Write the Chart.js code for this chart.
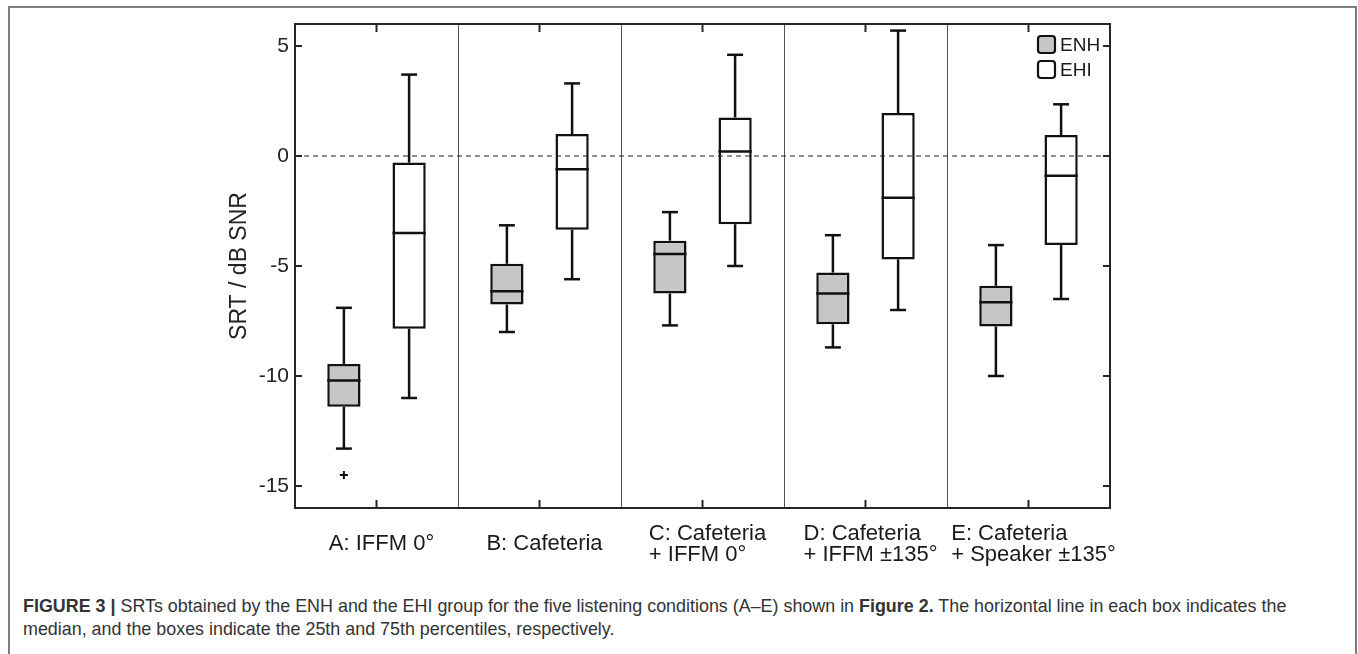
<!DOCTYPE html>
<html>
<head>
<meta charset="utf-8">
<script src="https://cdn.jsdelivr.net/npm/chart.js@4.4.0/dist/chart.umd.min.js"></script>
<style>
body { margin: 0; background: #fff; width: 1358px; height: 654px; overflow: hidden; position: relative; font-family: "Liberation Sans", Arial, Helvetica, sans-serif; }
#moldura { position: absolute; left: 8px; top: 6px; width: 1345px; height: 660px; border: 2px solid #7d7d7d; }
#grafico { position: absolute; left: 0; top: 0; }
#legenda { position: absolute; left: 23px; top: 595px; font-size: 17.9px; line-height: 23px; color: #333; white-space: nowrap; }
</style>
</head>
<body>
<div id="moldura"></div>
<canvas id="grafico" width="1358" height="575"></canvas>
<div id="legenda"><b>FIGURE 3 |</b> SRTs obtained by the ENH and the EHI group for the five listening conditions (A–E) shown in <b>Figure 2.</b> The horizontal line in each box indicates the<br>median, and the boxes indicate the 25th and 75th percentiles, respectively.</div>
<script>
// Condições de escuta (rótulos em várias linhas)
const condicoes = [
    ['A: IFFM 0°'],
    ['B: Cafeteria'],
    ['C: Cafeteria', '+ IFFM 0°'],
    ['D: Cafeteria', '+ IFFM ±135°'],
    ['E: Cafeteria', '+ Speaker ±135°']
];

// Grupo ENH
const enhMin = [-13.3, -8.0, -7.7, -8.7, -10.0];
const enhQ1 = [-11.4, -6.75, -6.25, -7.65, -7.75];
const enhMed = [-10.2, -6.15, -4.45, -6.25, -6.65];
const enhQ3 = [-9.45, -4.9, -3.85, -5.3, -5.9];
const enhMax = [-6.9, -3.15, -2.55, -3.6, -4.05];
const enhOutliers = [[-14.5], [], [], [], []];

// Grupo EHI
const ehiMin = [-11.0, -5.6, -5.0, -7.0, -6.5];
const ehiQ1 = [-7.85, -3.35, -3.1, -4.7, -4.05];
const ehiMed = [-3.5, -0.6, 0.2, -1.9, -0.9];
const ehiQ3 = [-0.3, 1.0, 1.75, 1.95, 0.95];
const ehiMax = [3.7, 3.3, 4.6, 5.7, 2.35];
const ehiOutliers = [[], [], [], [], []];

// Eixo y
const yTicks = [-15, -10, -5, 0, 5];
const yMin = -16;
const yMax = 6;

const fonte = '"Liberation Sans", Arial, Helvetica, sans-serif';
const series = [
    { min: enhMin, q1: enhQ1, med: enhMed, q3: enhQ3, max: enhMax, outliers: enhOutliers },
    { min: ehiMin, q1: ehiQ1, med: ehiMed, q3: ehiQ3, max: ehiMax, outliers: ehiOutliers }
];

function linha(ctx, x1, y1, x2, y2) {
    ctx.beginPath();
    ctx.moveTo(x1, y1);
    ctx.lineTo(x2, y2);
    ctx.stroke();
}

// Bigodes, medianas, outliers, moldura, ticks internos, rótulos e legenda
const desenhoBoxplot = {
    id: 'desenhoBoxplot',
    afterDatasetsDraw(chart) {
        const { ctx, chartArea: a, scales: { x, y } } = chart;
        ctx.save();
        ctx.strokeStyle = '#111';
        ctx.lineCap = 'butt';

        series.forEach((s, d) => {
            chart.getDatasetMeta(d).data.forEach((bar, i) => {
                const meio = bar.x;
                const larg = bar.width;
                const cap = larg * 0.24;
                ctx.lineWidth = 2.5;
                const yMed = y.getPixelForValue(s.med[i]);
                linha(ctx, meio - larg / 2, yMed, meio + larg / 2, yMed);
                const yQ3 = y.getPixelForValue(s.q3[i]);
                const yMx = y.getPixelForValue(s.max[i]);
                linha(ctx, meio, yQ3, meio, yMx);
                linha(ctx, meio - cap, yMx, meio + cap, yMx);
                const yQ1 = y.getPixelForValue(s.q1[i]);
                const yMn = y.getPixelForValue(s.min[i]);
                linha(ctx, meio, yQ1, meio, yMn);
                linha(ctx, meio - cap, yMn, meio + cap, yMn);
                ctx.lineWidth = 2;
                s.outliers[i].forEach(v => {
                    const py = y.getPixelForValue(v);
                    linha(ctx, meio - 4, py, meio + 4, py);
                    linha(ctx, meio, py - 4, meio, py + 4);
                });
            });
        });

        // linha tracejada em 0
        ctx.strokeStyle = '#222';
        ctx.lineWidth = 1.2;
        ctx.setLineDash([5, 4]);
        const y0 = y.getPixelForValue(0);
        linha(ctx, a.left, y0, a.right, y0);
        ctx.setLineDash([]);

        // moldura e ticks internos
        ctx.strokeStyle = '#262626';
        ctx.lineWidth = 2;
        ctx.strokeRect(a.left, a.top, a.right - a.left, a.bottom - a.top);
        yTicks.forEach(v => {
            const py = y.getPixelForValue(v);
            linha(ctx, a.left, py, a.left + 7, py);
            linha(ctx, a.right - 7, py, a.right, py);
        });
        condicoes.forEach((c, i) => {
            const px = x.getPixelForValue(i);
            linha(ctx, px, a.top, px, a.top + 8);
            linha(ctx, px, a.bottom - 8, px, a.bottom);
        });

        // rótulos do eixo x (linhas alinhadas à esquerda, bloco centrado)
        ctx.fillStyle = '#1a1a1a';
        ctx.font = '22px ' + fonte;
        ctx.textAlign = 'left';
        ctx.textBaseline = 'middle';
        condicoes.forEach((linhas, i) => {
            const px = x.getPixelForValue(i);
            const w = Math.max(...linhas.map(t => ctx.measureText(t).width));
            const n = linhas.length;
            linhas.forEach((t, k) => {
                ctx.fillText(t, px - w / 2 + 5, a.bottom + 36 + (k - (n - 1) / 2) * 21);
            });
        });

        // legenda
        ctx.font = '19px ' + fonte;
        chart.data.datasets.forEach((ds, d) => {
            const bx = a.right - 72;
            const by = a.top + 12 + d * 25;
            ctx.beginPath();
            ctx.roundRect(bx, by, 17, 17, 3);
            ctx.fillStyle = ds.backgroundColor;
            ctx.fill();
            ctx.lineWidth = 2.2;
            ctx.strokeStyle = '#111';
            ctx.stroke();
            ctx.fillStyle = '#1a1a1a';
            ctx.fillText(ds.label, bx + 22, by + 9.5);
        });
        ctx.restore();
    }
};

const ctx = document.getElementById('grafico').getContext('2d');
new Chart(ctx, {
    type: 'bar',
    data: {
        labels: condicoes,
        datasets: [
            {
                label: 'ENH',
                data: enhQ1.map((q, i) => [q, enhQ3[i]]),
                backgroundColor: '#c6c6c6',
                borderColor: '#111',
                borderWidth: 2.5,
                borderSkipped: false,
                barPercentage: 0.51,
                categoryPercentage: 0.8
            },
            {
                label: 'EHI',
                data: ehiQ1.map((q, i) => [q, ehiQ3[i]]),
                backgroundColor: '#ffffff',
                borderColor: '#111',
                borderWidth: 2.5,
                borderSkipped: false,
                barPercentage: 0.51,
                categoryPercentage: 0.8
            }
        ]
    },
    options: {
        responsive: false,
        animation: false,
        layout: { padding: { left: 226, top: 24, right: 248, bottom: 0 } },
        plugins: {
            legend: { display: false },
            tooltip: { enabled: false }
        },
        scales: {
            x: {
                afterFit: s => { s.height = 575 - 508; },
                grid: { color: '#555', lineWidth: 1, drawTicks: false },
                border: { display: false },
                ticks: { display: false }
            },
            y: {
                min: yMin,
                max: yMax,
                afterBuildTicks: s => { s.ticks = yTicks.map(v => ({ value: v })); },
                afterFit: s => { s.width = 295 - 226; },
                grid: { display: false, drawTicks: false },
                border: { display: false },
                ticks: { font: { size: 21, family: fonte }, color: '#222', padding: 6 },
                title: {
                    display: true,
                    text: 'SRT / dB SNR',
                    font: { size: 23, family: fonte },
                    color: '#222',
                    padding: 0
                }
            }
        }
    },
    plugins: [desenhoBoxplot]
});
</script>
</body>
</html>
